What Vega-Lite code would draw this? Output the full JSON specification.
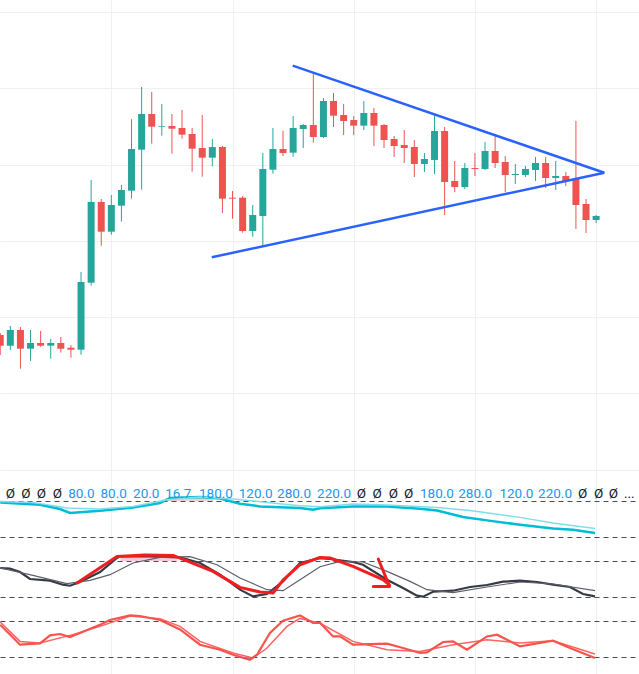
{
  "$schema": "https://vega.github.io/schema/vega-lite/v6.json",
  "padding": 0,
  "spacing": 0,
  "background": "#ffffff",
  "config": {
    "view": {"stroke": null},
    "axis": {"labels": false, "ticks": false, "domain": false, "grid": true}
  },
  "resolve": {"scale": {"x": "independent", "y": "independent", "color": "independent", "strokeWidth": "independent"}},
  "datasets": {
    "candles": [
      {"i": 0, "o": 35.32, "h": 35.84, "l": 30.07, "c": 32.51},
      {"i": 1, "o": 32.51, "h": 37.68, "l": 31.39, "c": 36.63},
      {"i": 2, "o": 36.63, "h": 37.42, "l": 26.48, "c": 31.73},
      {"i": 3, "o": 31.73, "h": 36.63, "l": 28.5, "c": 33.22},
      {"i": 4, "o": 33.22, "h": 36.37, "l": 32.25, "c": 32.51},
      {"i": 5, "o": 32.51, "h": 34.27, "l": 29.1, "c": 33.22},
      {"i": 6, "o": 33.22, "h": 34.8, "l": 30.68, "c": 31.73},
      {"i": 7, "o": 31.99, "h": 32.7, "l": 29.37, "c": 31.46},
      {"i": 8, "o": 31.46, "h": 51.84, "l": 30.15, "c": 49.21},
      {"i": 9, "o": 49.03, "h": 75.96, "l": 48.24, "c": 70.19},
      {"i": 10, "o": 70.19, "h": 70.98, "l": 58.73, "c": 62.4},
      {"i": 11, "o": 62.4, "h": 72.02, "l": 61.62, "c": 69.4},
      {"i": 12, "o": 69.22, "h": 74.65, "l": 65.03, "c": 73.34},
      {"i": 13, "o": 73.15, "h": 91.89, "l": 71.06, "c": 84.09},
      {"i": 14, "o": 83.9, "h": 100.34, "l": 73.42, "c": 93.26},
      {"i": 15, "o": 93.26, "h": 99.03, "l": 85.48, "c": 89.93},
      {"i": 16, "o": 89.93, "h": 95.89, "l": 87.57, "c": 90.12},
      {"i": 17, "o": 90.12, "h": 93.26, "l": 82.86, "c": 89.41},
      {"i": 18, "o": 89.59, "h": 94.31, "l": 86.79, "c": 87.84},
      {"i": 19, "o": 88.02, "h": 89.59, "l": 78.14, "c": 84.17},
      {"i": 20, "o": 84.35, "h": 93.0, "l": 76.82, "c": 81.81},
      {"i": 21, "o": 81.81, "h": 86.71, "l": 79.55, "c": 84.61},
      {"i": 22, "o": 84.61, "h": 84.87, "l": 67.31, "c": 71.06},
      {"i": 23, "o": 71.32, "h": 73.07, "l": 65.81, "c": 71.06},
      {"i": 24, "o": 71.32, "h": 71.76, "l": 62.14, "c": 62.59},
      {"i": 25, "o": 62.59, "h": 69.4, "l": 61.09, "c": 66.78},
      {"i": 26, "o": 66.52, "h": 83.04, "l": 58.65, "c": 78.84},
      {"i": 27, "o": 78.66, "h": 89.59, "l": 77.61, "c": 84.09},
      {"i": 28, "o": 84.09, "h": 88.89, "l": 82.25, "c": 83.04},
      {"i": 29, "o": 83.12, "h": 92.74, "l": 82.07, "c": 89.59},
      {"i": 30, "o": 89.33, "h": 90.64, "l": 84.35, "c": 90.38},
      {"i": 31, "o": 90.38, "h": 103.94, "l": 85.74, "c": 87.23},
      {"i": 32, "o": 87.23, "h": 97.45, "l": 86.97, "c": 96.67},
      {"i": 33, "o": 96.67, "h": 98.77, "l": 89.86, "c": 92.82},
      {"i": 34, "o": 93.0, "h": 95.89, "l": 87.76, "c": 91.43},
      {"i": 35, "o": 91.69, "h": 92.74, "l": 87.76, "c": 90.2},
      {"i": 36, "o": 90.2, "h": 96.67, "l": 89.07, "c": 93.53},
      {"i": 37, "o": 93.53, "h": 94.84, "l": 84.87, "c": 90.2},
      {"i": 38, "o": 90.38, "h": 90.64, "l": 84.35, "c": 86.45},
      {"i": 39, "o": 86.71, "h": 87.49, "l": 81.99, "c": 84.87},
      {"i": 40, "o": 85.14, "h": 89.07, "l": 80.42, "c": 84.35},
      {"i": 41, "o": 84.61, "h": 86.45, "l": 76.75, "c": 80.16},
      {"i": 42, "o": 80.16, "h": 83.04, "l": 78.06, "c": 81.47},
      {"i": 43, "o": 81.21, "h": 93.26, "l": 77.54, "c": 88.81},
      {"i": 44, "o": 88.81, "h": 89.86, "l": 66.78, "c": 75.43},
      {"i": 45, "o": 75.7, "h": 80.94, "l": 72.76, "c": 74.12},
      {"i": 46, "o": 74.12, "h": 80.42, "l": 73.55, "c": 79.11},
      {"i": 47, "o": 79.11, "h": 83.04, "l": 77.01, "c": 78.85},
      {"i": 48, "o": 78.85, "h": 85.92, "l": 78.58, "c": 83.56},
      {"i": 49, "o": 83.56, "h": 87.76, "l": 79.11, "c": 80.42},
      {"i": 50, "o": 80.68, "h": 82.25, "l": 72.76, "c": 77.27},
      {"i": 51, "o": 77.27, "h": 80.16, "l": 74.91, "c": 77.54},
      {"i": 52, "o": 77.27, "h": 79.63, "l": 76.75, "c": 78.85},
      {"i": 53, "o": 78.58, "h": 81.99, "l": 75.7, "c": 80.42},
      {"i": 54, "o": 80.42, "h": 81.99, "l": 73.86, "c": 76.48},
      {"i": 55, "o": 76.48, "h": 80.94, "l": 73.34, "c": 77.01},
      {"i": 56, "o": 77.01, "h": 78.06, "l": 74.39, "c": 75.7},
      {"i": 57, "o": 76.22, "h": 91.43, "l": 63.11, "c": 69.4},
      {"i": 58, "o": 69.67, "h": 70.98, "l": 62.06, "c": 65.47},
      {"i": 59, "o": 65.47, "h": 66.78, "l": 64.69, "c": 66.52}
    ],
    "trend": [
      {"g": "upper", "i": 28.96, "p": 105.93},
      {"g": "upper", "i": 59.81, "p": 77.87},
      {"g": "lower", "i": 20.94, "p": 55.69},
      {"g": "lower", "i": 59.81, "p": 77.87}
    ],
    "labels": [
      {"i": 1.0, "t": "Ø", "k": "na"},
      {"i": 2.55, "t": "Ø", "k": "na"},
      {"i": 4.07, "t": "Ø", "k": "na"},
      {"i": 5.65, "t": "Ø", "k": "na"},
      {"i": 8.03, "t": "80.0", "k": "num"},
      {"i": 11.23, "t": "80.0", "k": "num"},
      {"i": 14.46, "t": "20.0", "k": "num"},
      {"i": 17.63, "t": "16.7", "k": "num"},
      {"i": 21.36, "t": "180.0", "k": "num"},
      {"i": 25.29, "t": "120.0", "k": "num"},
      {"i": 29.09, "t": "280.0", "k": "num"},
      {"i": 33.05, "t": "220.0", "k": "num"},
      {"i": 35.75, "t": "Ø", "k": "na"},
      {"i": 37.33, "t": "Ø", "k": "na"},
      {"i": 38.92, "t": "Ø", "k": "na"},
      {"i": 40.44, "t": "Ø", "k": "na"},
      {"i": 43.24, "t": "180.0", "k": "num"},
      {"i": 47.03, "t": "280.0", "k": "num"},
      {"i": 51.1, "t": "120.0", "k": "num"},
      {"i": 54.93, "t": "220.0", "k": "num"},
      {"i": 57.67, "t": "Ø", "k": "na"},
      {"i": 59.25, "t": "Ø", "k": "na"},
      {"i": 60.7, "t": "Ø", "k": "na"},
      {"i": 62.28, "t": "...", "k": "na"}
    ],
    "ind1": [
      {"s": "fast", "i": 0, "v": 77.7}, {"s": "fast", "i": 3.94, "v": 73.8}, {"s": "fast", "i": 5.92, "v": 66.7},
      {"s": "fast", "i": 6.91, "v": 60.0}, {"s": "fast", "i": 9.88, "v": 63.8}, {"s": "fast", "i": 13.15, "v": 69.3},
      {"s": "fast", "i": 15.82, "v": 76.7}, {"s": "fast", "i": 16.81, "v": 85.0}, {"s": "fast", "i": 19.78, "v": 86.7},
      {"s": "fast", "i": 21.76, "v": 84.3}, {"s": "fast", "i": 23.74, "v": 75.5}, {"s": "fast", "i": 25.72, "v": 71.0},
      {"s": "fast", "i": 29.68, "v": 68.3}, {"s": "fast", "i": 30.97, "v": 65.5}, {"s": "fast", "i": 31.66, "v": 68.0},
      {"s": "fast", "i": 34.93, "v": 71.0}, {"s": "fast", "i": 38.29, "v": 71.0}, {"s": "fast", "i": 41.56, "v": 67.2},
      {"s": "fast", "i": 43.25, "v": 64.3}, {"s": "fast", "i": 45.82, "v": 53.3}, {"s": "fast", "i": 48.2, "v": 47.7},
      {"s": "fast", "i": 51.46, "v": 40.5}, {"s": "fast", "i": 54.73, "v": 34.3}, {"s": "fast", "i": 56.71, "v": 32.2},
      {"s": "fast", "i": 58.89, "v": 26.7},
      {"s": "slow", "i": 0, "v": 79.3}, {"s": "slow", "i": 3.24, "v": 77.7}, {"s": "slow", "i": 6.61, "v": 68.3},
      {"s": "slow", "i": 9.88, "v": 66.7}, {"s": "slow", "i": 13.15, "v": 71.0}, {"s": "slow", "i": 16.51, "v": 82.2},
      {"s": "slow", "i": 19.78, "v": 86.7}, {"s": "slow", "i": 23.05, "v": 83.3}, {"s": "slow", "i": 26.41, "v": 77.7},
      {"s": "slow", "i": 29.68, "v": 72.2}, {"s": "slow", "i": 31.66, "v": 70.5}, {"s": "slow", "i": 34.93, "v": 75.0},
      {"s": "slow", "i": 38.29, "v": 73.3}, {"s": "slow", "i": 43.25, "v": 69.3}, {"s": "slow", "i": 46.51, "v": 64.3},
      {"s": "slow", "i": 51.46, "v": 52.7}, {"s": "slow", "i": 54.73, "v": 43.3}, {"s": "slow", "i": 58.89, "v": 34.3}
    ],
    "fill1": [
      {"i": 16.1, "v": 80, "v2": 80}, {"i": 16.8, "v": 84.5, "v2": 80}, {"i": 18.5, "v": 86.3, "v2": 80},
      {"i": 20.0, "v": 86.5, "v2": 80}, {"i": 21.1, "v": 85.0, "v2": 80}
    ],
    "ind2": [
      {"s": "fast", "i": 0, "v": 68.3}, {"s": "fast", "i": 0.97, "v": 67.2}, {"s": "fast", "i": 1.96, "v": 61.7},
      {"s": "fast", "i": 2.95, "v": 50.0}, {"s": "fast", "i": 4.93, "v": 47.2}, {"s": "fast", "i": 6.21, "v": 40.5},
      {"s": "fast", "i": 6.91, "v": 38.8}, {"s": "fast", "i": 7.9, "v": 45.0}, {"s": "fast", "i": 9.88, "v": 61.7},
      {"s": "fast", "i": 11.56, "v": 85.0}, {"s": "fast", "i": 11.86, "v": 87.7}, {"s": "fast", "i": 14.83, "v": 87.7},
      {"s": "fast", "i": 17.8, "v": 86.0}, {"s": "fast", "i": 19.78, "v": 76.7}, {"s": "fast", "i": 21.76, "v": 57.2},
      {"s": "fast", "i": 23.74, "v": 32.2}, {"s": "fast", "i": 25.03, "v": 21.0}, {"s": "fast", "i": 26.41, "v": 25.0},
      {"s": "fast", "i": 28.0, "v": 46.0}, {"s": "fast", "i": 29.68, "v": 76.7}, {"s": "fast", "i": 31.66, "v": 84.7},
      {"s": "fast", "i": 32.65, "v": 83.3}, {"s": "fast", "i": 34.93, "v": 78.3}, {"s": "fast", "i": 35.92, "v": 73.8},
      {"s": "fast", "i": 38.29, "v": 48.8}, {"s": "fast", "i": 39.88, "v": 35.0}, {"s": "fast", "i": 41.26, "v": 22.2},
      {"s": "fast", "i": 41.86, "v": 20.5}, {"s": "fast", "i": 42.85, "v": 28.8}, {"s": "fast", "i": 44.83, "v": 30.5},
      {"s": "fast", "i": 46.51, "v": 36.7}, {"s": "fast", "i": 48.2, "v": 40.0}, {"s": "fast", "i": 49.78, "v": 45.5},
      {"s": "fast", "i": 51.46, "v": 47.2}, {"s": "fast", "i": 53.15, "v": 45.0}, {"s": "fast", "i": 54.73, "v": 40.5},
      {"s": "fast", "i": 56.41, "v": 36.7}, {"s": "fast", "i": 57.7, "v": 25.0}, {"s": "fast", "i": 58.89, "v": 21.0},
      {"s": "slow", "i": 0, "v": 68.3}, {"s": "slow", "i": 3.24, "v": 56.0}, {"s": "slow", "i": 6.61, "v": 42.2},
      {"s": "slow", "i": 8.89, "v": 47.7}, {"s": "slow", "i": 10.87, "v": 57.2}, {"s": "slow", "i": 13.15, "v": 76.7},
      {"s": "slow", "i": 15.82, "v": 86.0}, {"s": "slow", "i": 18.79, "v": 87.2}, {"s": "slow", "i": 21.46, "v": 73.8},
      {"s": "slow", "i": 23.74, "v": 51.7}, {"s": "slow", "i": 26.41, "v": 32.2}, {"s": "slow", "i": 28.0, "v": 30.5},
      {"s": "slow", "i": 29.68, "v": 48.8}, {"s": "slow", "i": 31.66, "v": 70.5}, {"s": "slow", "i": 33.64, "v": 79.3},
      {"s": "slow", "i": 35.92, "v": 78.3}, {"s": "slow", "i": 38.29, "v": 62.7}, {"s": "slow", "i": 40.57, "v": 46.0},
      {"s": "slow", "i": 42.25, "v": 32.2}, {"s": "slow", "i": 44.83, "v": 27.2}, {"s": "slow", "i": 48.2, "v": 36.7},
      {"s": "slow", "i": 51.46, "v": 45.0}, {"s": "slow", "i": 54.73, "v": 41.7}, {"s": "slow", "i": 58.89, "v": 30.5}
    ],
    "fill2": [
      {"i": 11.9, "v": 87.7, "v2": 80}, {"i": 13.2, "v": 88.3, "v2": 80},
      {"i": 15.8, "v": 88.5, "v2": 80}, {"i": 17.5, "v": 87.5, "v2": 80}
    ],
    "draw": [
      {"g": "path", "n": 1, "i": 7.6, "v": 43.3}, {"g": "path", "n": 2, "i": 11.56, "v": 87.7},
      {"g": "path", "n": 3, "i": 14.3, "v": 89.8}, {"g": "path", "n": 4, "i": 17.11, "v": 89.3},
      {"g": "path", "n": 5, "i": 21.07, "v": 62.7}, {"g": "path", "n": 6, "i": 23.74, "v": 36.0},
      {"g": "path", "n": 7, "i": 25.72, "v": 28.3}, {"g": "path", "n": 8, "i": 27.01, "v": 26.7},
      {"g": "path", "n": 9, "i": 28.0, "v": 48.0}, {"g": "path", "n": 10, "i": 29.68, "v": 73.8},
      {"g": "path", "n": 11, "i": 31.66, "v": 86.0}, {"g": "path", "n": 12, "i": 32.65, "v": 85.0},
      {"g": "path", "n": 13, "i": 34.93, "v": 71.0}, {"g": "path", "n": 14, "i": 37.9, "v": 48.8},
      {"g": "path", "n": 15, "i": 38.49, "v": 40.5},
      {"g": "head", "n": 1, "i": 37.43, "v": 83.3}, {"g": "head", "n": 2, "i": 38.55, "v": 37.7},
      {"g": "head", "n": 3, "i": 36.94, "v": 37.7}
    ],
    "ind3": [
      {"s": "a", "i": 0, "v": 73.8}, {"s": "a", "i": 1.96, "v": 40.5}, {"s": "a", "i": 3.94, "v": 42.7},
      {"s": "a", "i": 4.93, "v": 56.0}, {"s": "a", "i": 5.92, "v": 58.3}, {"s": "a", "i": 6.91, "v": 53.3},
      {"s": "a", "i": 7.9, "v": 60.0}, {"s": "a", "i": 9.88, "v": 73.8}, {"s": "a", "i": 10.87, "v": 81.7},
      {"s": "a", "i": 12.85, "v": 89.3}, {"s": "a", "i": 13.84, "v": 88.3}, {"s": "a", "i": 15.82, "v": 81.7},
      {"s": "a", "i": 17.8, "v": 66.0}, {"s": "a", "i": 19.78, "v": 40.5}, {"s": "a", "i": 21.76, "v": 32.2},
      {"s": "a", "i": 23.05, "v": 23.8}, {"s": "a", "i": 24.73, "v": 15.5}, {"s": "a", "i": 25.42, "v": 23.8},
      {"s": "a", "i": 26.71, "v": 60.0}, {"s": "a", "i": 28.0, "v": 80.5}, {"s": "a", "i": 29.68, "v": 89.3},
      {"s": "a", "i": 30.97, "v": 76.7}, {"s": "a", "i": 31.66, "v": 77.2}, {"s": "a", "i": 32.95, "v": 54.3},
      {"s": "a", "i": 33.64, "v": 54.3}, {"s": "a", "i": 34.93, "v": 40.5}, {"s": "a", "i": 38.29, "v": 42.2},
      {"s": "a", "i": 39.88, "v": 35.0}, {"s": "a", "i": 41.56, "v": 26.7}, {"s": "a", "i": 42.25, "v": 27.7},
      {"s": "a", "i": 43.84, "v": 45.0}, {"s": "a", "i": 44.83, "v": 46.0}, {"s": "a", "i": 46.21, "v": 32.2},
      {"s": "a", "i": 48.2, "v": 54.3}, {"s": "a", "i": 49.19, "v": 57.2}, {"s": "a", "i": 51.46, "v": 37.7},
      {"s": "a", "i": 54.73, "v": 47.2}, {"s": "a", "i": 56.41, "v": 35.0}, {"s": "a", "i": 58.89, "v": 18.3},
      {"s": "b", "i": 0, "v": 78.3}, {"s": "b", "i": 1.96, "v": 46.0}, {"s": "b", "i": 3.94, "v": 43.3},
      {"s": "b", "i": 6.91, "v": 56.0}, {"s": "b", "i": 9.88, "v": 71.0}, {"s": "b", "i": 12.85, "v": 88.3},
      {"s": "b", "i": 15.82, "v": 83.8}, {"s": "b", "i": 17.8, "v": 71.0}, {"s": "b", "i": 19.78, "v": 46.0},
      {"s": "b", "i": 23.05, "v": 26.7}, {"s": "b", "i": 25.03, "v": 18.3}, {"s": "b", "i": 26.41, "v": 35.0},
      {"s": "b", "i": 28.39, "v": 71.0}, {"s": "b", "i": 29.68, "v": 84.3}, {"s": "b", "i": 31.66, "v": 76.3},
      {"s": "b", "i": 34.93, "v": 46.0}, {"s": "b", "i": 38.29, "v": 32.2}, {"s": "b", "i": 41.56, "v": 29.3},
      {"s": "b", "i": 44.83, "v": 40.5}, {"s": "b", "i": 48.2, "v": 48.8}, {"s": "b", "i": 51.46, "v": 43.3},
      {"s": "b", "i": 54.73, "v": 47.2}, {"s": "b", "i": 58.1, "v": 29.3}, {"s": "b", "i": 58.89, "v": 25.0}
    ],
    "fill3": [
      {"i": 23.3, "v": 20, "v2": 20}, {"i": 24.0, "v": 17.5, "v2": 20},
      {"i": 24.7, "v": 15.5, "v2": 20}, {"i": 25.1, "v": 20, "v2": 20}
    ]
  },
  "vconcat": [
    {
      "width": 639,
      "height": 475,
      "layer": [
        {
          "mark": {"type": "rule", "color": "#00bcd4", "strokeWidth": 1.5},
          "encoding": {"y": {"datum": 79.55, "type": "quantitative"}}
        },
        {
          "mark": {"type": "rule", "color": "#26a69a", "strokeWidth": 1.5, "strokeDash": [1.5, 2]},
          "encoding": {"y": {"datum": 66.52, "type": "quantitative"}}
        },
        {
          "data": {"name": "candles"},
          "mark": {"type": "rule", "strokeWidth": 1, "clip": true},
          "encoding": {
            "x": {
              "field": "i", "type": "quantitative",
              "scale": {"domain": [-0.023, 63.245], "nice": false, "zero": false, "padding": 0},
              "axis": {"values": [11, 23, 35, 47, 59], "gridColor": "#eef0f3", "title": null}
            },
            "y": {
              "field": "l", "type": "quantitative",
              "scale": {"domain": [-1.39, 123.15], "nice": false, "zero": false},
              "axis": {"values": [0, 10, 20, 30, 40, 50, 60, 70, 80, 90, 100, 110, 120], "gridColor": "#eef0f3", "title": null}
            },
            "y2": {"field": "h"},
            "color": {"condition": {"test": "datum.c >= datum.o", "value": "#26a69a"}, "value": "#ef5350"}
          }
        },
        {
          "data": {"name": "candles"},
          "mark": {"type": "bar", "width": 7, "clip": true},
          "encoding": {
            "x": {"field": "i", "type": "quantitative"},
            "y": {"field": "o", "type": "quantitative"},
            "y2": {"field": "c"},
            "color": {"condition": {"test": "datum.c >= datum.o", "value": "#26a69a"}, "value": "#ef5350"}
          }
        },
        {
          "data": {"name": "trend"},
          "mark": {"type": "line", "color": "#2962ff", "strokeWidth": 2.5, "clip": true},
          "encoding": {
            "x": {"field": "i", "type": "quantitative"},
            "y": {"field": "p", "type": "quantitative"},
            "detail": {"field": "g"}
          }
        }
      ]
    },
    {
      "width": 639,
      "height": 74,
      "layer": [
        {
          "data": {"name": "fill1"},
          "mark": {"type": "area", "color": "#f8c4cc", "opacity": 0.9, "clip": true},
          "encoding": {
            "x": {
              "field": "i", "type": "quantitative",
              "scale": {"domain": [-0.023, 63.245], "nice": false, "zero": false, "padding": 0},
              "axis": {"values": [11, 23, 35, 47, 59], "gridColor": "#f0f1f4", "title": null}
            },
            "y": {
              "field": "v", "type": "quantitative",
              "scale": {"domain": [0, 123.33], "nice": false, "zero": false},
              "axis": {"values": [20, 50, 80], "gridColor": "#4a4d57", "gridDash": [5, 4], "gridWidth": 1, "title": null}
            },
            "y2": {"field": "v2"}
          }
        },
        {
          "data": {"name": "ind1"},
          "mark": {"type": "line", "clip": true},
          "encoding": {
            "x": {"field": "i", "type": "quantitative"},
            "y": {"field": "v", "type": "quantitative"},
            "color": {"field": "s", "type": "nominal", "scale": {"domain": ["slow", "fast"], "range": ["#80deea", "#00bcd4"]}, "legend": null},
            "strokeWidth": {"field": "s", "type": "nominal", "scale": {"domain": ["slow", "fast"], "range": [1.5, 2.5]}, "legend": null}
          }
        },
        {
          "data": {"name": "labels"},
          "mark": {"type": "text", "font": "Roboto", "fontSize": 13.5, "align": "center", "baseline": "middle", "clip": true},
          "encoding": {
            "x": {"field": "i", "type": "quantitative"},
            "y": {"datum": 92, "type": "quantitative"},
            "text": {"field": "t"},
            "color": {"condition": {"test": "datum.k == 'num'", "value": "#2196f3"}, "value": "#131722"}
          }
        },
        {
          "mark": {"type": "rule", "color": "#e0e3eb", "strokeWidth": 1.5},
          "encoding": {"y": {"datum": 123.33, "type": "quantitative"}}
        }
      ]
    },
    {
      "width": 639,
      "height": 60,
      "layer": [
        {
          "data": {"name": "fill2"},
          "mark": {"type": "area", "color": "#f8c4cc", "opacity": 0.9, "clip": true},
          "encoding": {
            "x": {
              "field": "i", "type": "quantitative",
              "scale": {"domain": [-0.023, 63.245], "nice": false, "zero": false, "padding": 0},
              "axis": {"values": [11, 23, 35, 47, 59], "gridColor": "#f0f1f4", "title": null}
            },
            "y": {
              "field": "v", "type": "quantitative",
              "scale": {"domain": [0, 100], "nice": false, "zero": false},
              "axis": {"values": [20, 50, 80], "gridColor": "#4a4d57", "gridDash": [5, 4], "gridWidth": 1, "title": null}
            },
            "y2": {"field": "v2"}
          }
        },
        {
          "data": {"name": "ind2"},
          "mark": {"type": "line", "clip": true},
          "encoding": {
            "x": {"field": "i", "type": "quantitative"},
            "y": {"field": "v", "type": "quantitative"},
            "color": {"field": "s", "type": "nominal", "scale": {"domain": ["slow", "fast"], "range": ["#5d606b", "#363a45"]}, "legend": null},
            "strokeWidth": {"field": "s", "type": "nominal", "scale": {"domain": ["slow", "fast"], "range": [1.2, 2.2]}, "legend": null}
          }
        },
        {
          "data": {"name": "draw"},
          "mark": {"type": "line", "color": "#f01e1e", "strokeWidth": 3, "strokeCap": "round", "strokeJoin": "round", "clip": true},
          "encoding": {
            "x": {"field": "i", "type": "quantitative"},
            "y": {"field": "v", "type": "quantitative"},
            "detail": {"field": "g"},
            "order": {"field": "n"}
          }
        },
        {
          "mark": {"type": "rule", "color": "#363a45", "strokeWidth": 1.2},
          "encoding": {"y": {"datum": 100, "type": "quantitative"}}
        }
      ]
    },
    {
      "width": 639,
      "height": 65,
      "layer": [
        {
          "data": {"name": "fill3"},
          "mark": {"type": "area", "color": "#64b5f6", "opacity": 0.9, "clip": true},
          "encoding": {
            "x": {
              "field": "i", "type": "quantitative",
              "scale": {"domain": [-0.023, 63.245], "nice": false, "zero": false, "padding": 0},
              "axis": {"values": [11, 23, 35, 47, 59], "gridColor": "#f0f1f4", "title": null}
            },
            "y": {
              "field": "v", "type": "quantitative",
              "scale": {"domain": [-8.33, 100], "nice": false, "zero": false},
              "axis": {"values": [20, 50, 80], "gridColor": "#4a4d57", "gridDash": [5, 4], "gridWidth": 1, "title": null}
            },
            "y2": {"field": "v2"}
          }
        },
        {
          "data": {"name": "ind3"},
          "mark": {"type": "line", "opacity": 0.9, "clip": true},
          "encoding": {
            "x": {"field": "i", "type": "quantitative"},
            "y": {"field": "v", "type": "quantitative"},
            "color": {"field": "s", "type": "nominal", "scale": {"domain": ["a", "b"], "range": ["#f44336", "#ff5252"]}, "legend": null},
            "strokeWidth": {"field": "s", "type": "nominal", "scale": {"domain": ["a", "b"], "range": [2.2, 1.5]}, "legend": null}
          }
        },
        {
          "mark": {"type": "rule", "color": "#363a45", "strokeWidth": 1.2},
          "encoding": {"y": {"datum": 100, "type": "quantitative"}}
        },
        {
          "mark": {"type": "rule", "color": "#eef0f3", "strokeWidth": 1},
          "encoding": {"y": {"datum": 0, "type": "quantitative"}}
        }
      ]
    }
  ]
}
